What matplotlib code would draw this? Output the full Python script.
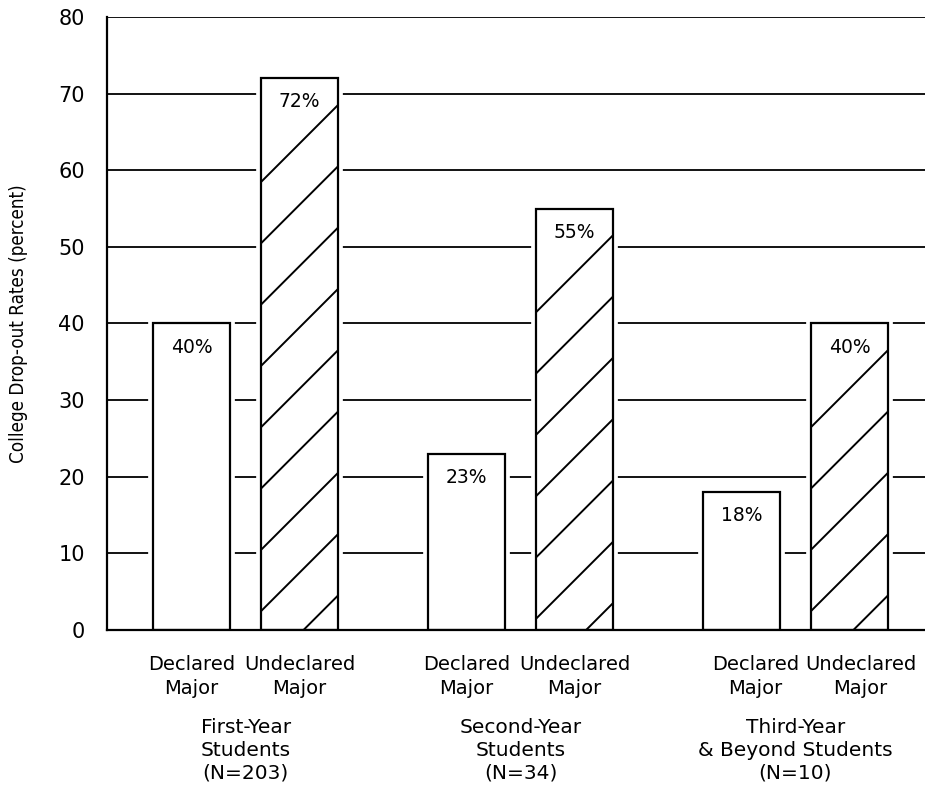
import numpy as np
import matplotlib
matplotlib.use("Agg")
import matplotlib.pyplot as plt

plt.rcParams['font.family'] = ['DejaVu Sans']

groups = ["First-Year\nStudents\n(N=203)", "Second-Year\nStudents\n(N=34)", "Third-Year\n& Beyond Students\n(N=10)"]
declared = [40, 23, 18]
undeclared = [72, 55, 40]
bar_names = ["Declared\nMajor", "Undeclared\nMajor"]
y_ticks = [0, 10, 20, 30, 40, 50, 60, 70, 80]

x = np.arange(len(groups))
off = 0.196
w = 0.28
# the scanned labels under the last group sit a little to the right
shift_dec = [0, 0, 0.05]
shift_und = [0, 0, 0.04]

fig = plt.figure(figsize=(9.25, 7.87), dpi=100)
ax = fig.add_axes([0.1157, 0.1995, 0.8843, 0.779])
ax.set_xlim(-0.504, 2.471)
ax.set_ylim(0, 80)

# gridlines
ax.set_yticks(y_ticks)
ax.yaxis.grid(True, color='black', linewidth=1.3, zorder=0.5)
ax.set_axisbelow(True)

# white halo behind bars so gridlines break around them
ax.bar(x - off, declared, w, color='white', edgecolor='white', linewidth=7, zorder=1.5)
ax.bar(x + off, undeclared, w, color='white', edgecolor='white', linewidth=7, zorder=1.5)
b1 = ax.bar(x - off, declared, w, color='white', edgecolor='black', linewidth=1.6, zorder=2)
b2 = ax.bar(x + off, undeclared, w, color='white', edgecolor='black', linewidth=1.6, zorder=2)

# sparse diagonal hatch, 45 degrees on screen, kept clear of the label
fig.canvas.draw()
p0 = ax.transData.transform((0, 0))
p1 = ax.transData.transform((1, 1))
slope = (p1[0] - p0[0]) / (p1[1] - p0[1])
step = 8.0
for rect in b2:
    x0 = rect.get_x()
    x1 = x0 + rect.get_width()
    h = rect.get_height()
    rise = (x1 - x0) * slope
    top_right = h - 3.5
    k = 0
    while top_right - k * step > -rise:
        r = top_right - k * step
        ln, = ax.plot([x0, x1], [r - rise, r], color='black', linewidth=1.4, zorder=2.2)
        ln.set_clip_path(rect)
        k += 1

for rect, v in zip(list(b1) + list(b2), declared + undeclared):
    ax.text(rect.get_x() + rect.get_width() / 2, v - 3.1, f"{v}%", ha='center', va='center',
            fontsize=13.5, zorder=3)

xt = ax.get_xaxis_transform()
for i in range(len(groups)):
    ax.text(x[i] - off + shift_dec[i], -0.040, bar_names[0], transform=xt,
            ha='center', va='top', fontsize=14, multialignment='center', linespacing=1.35)
    ax.text(x[i] + off + shift_und[i], -0.040, bar_names[1], transform=xt,
            ha='center', va='top', fontsize=14, multialignment='center', linespacing=1.35)
    ax.text(x[i], -0.144, groups[i], transform=xt,
            ha='center', va='top', fontsize=14.5, multialignment='center', linespacing=1.25)

ax.set_xticks([])
ax.tick_params(axis='y', length=0, pad=16, labelsize=15)
ax.set_ylabel("College Drop-out Rates (percent)", fontsize=13.5, fontstretch='condensed',
              labelpad=22)
ax.spines['top'].set_visible(False)
ax.spines['right'].set_visible(False)
ax.spines['left'].set_linewidth(1.6)
ax.spines['bottom'].set_linewidth(1.6)

fig.savefig("out.png", dpi=100)
